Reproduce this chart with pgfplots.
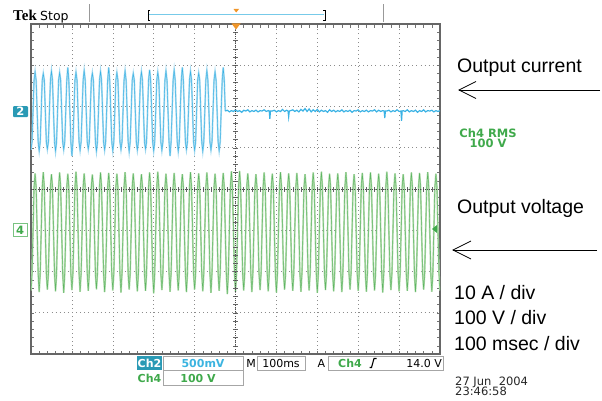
\documentclass[border=0pt]{standalone}
\usepackage{fontspec}
\setmainfont{Liberation Sans}
\newfontfamily\tekfont{DejaVu Sans}
\newfontfamily\logofont{Liberation Serif}
\usepackage{pgfplots}
\pgfplotsset{compat=1.18}

\definecolor{tekteal}{HTML}{2A9AB5}
\definecolor{teklblue}{HTML}{3CB4E0}
\definecolor{tekgreen}{HTML}{3FA94B}
\definecolor{tekorange}{HTML}{F0962A}
\definecolor{bluelt}{HTML}{A3D9F0}
\definecolor{bluedk}{HTML}{3AB2E4}
\definecolor{greenlt}{HTML}{B2DBAC}
\definecolor{greendk}{HTML}{5DB563}

\begin{document}
\begin{tikzpicture}[x=1pt,y=1pt]
\path[use as bounding box] (0,0) rectangle (602,400);

% graticule + traces (x in ms, y in divisions)
\begin{axis}[
  at={(31pt,46pt)}, anchor=south west, scale only axis,
  width=409pt, height=330pt,
  xmin=0, xmax=1000, ymin=-4, ymax=4,
  xtick={0,100,...,1000}, ytick={-4,-3,...,4},
  minor x tick num=4, minor y tick num=4,
  xticklabels={}, yticklabels={},
  tick align=inside, major tick length=3.5pt, minor tick length=3.5pt,
  tick style={black!55, line width=0.5pt},
  grid=major, major grid style={black!45, line width=0.6pt, dash pattern=on 0.8pt off 3.3pt},
  axis line style={black!60, line width=1.2pt},
]
% Ch4 output voltage
\addplot[greendk, line width=0.45pt, preaction={draw=greenlt, line width=1.7pt}] coordinates {
(0,-2.46)(2.5,-2.05)(5,-1)(7.5,0.05)(10,0.38)(12.5,0.05)(15,-1)(17.5,-2.05)
(20,-2.50)(22.5,-2.05)(25,-1)(27.5,0.05)(30,0.41)(32.5,0.05)(35,-1)(37.5,-2.05)
(40,-2.44)(42.5,-2.05)(45,-1)(47.5,0.05)(50,0.36)(52.5,0.05)(55,-1)(57.5,-2.05)
(60,-2.48)(62.5,-2.05)(65,-1)(67.5,0.05)(70,0.40)(72.5,0.05)(75,-1)(77.5,-2.05)
(80,-2.52)(82.5,-2.05)(85,-1)(87.5,0.05)(90,0.37)(92.5,0.05)(95,-1)(97.5,-2.05)
(100,-2.45)(102.5,-2.05)(105,-1)(107.5,0.05)(110,0.42)(112.5,0.05)(115,-1)(117.5,-2.05)
(120,-2.49)(122.5,-2.05)(125,-1)(127.5,0.05)(130,0.38)(132.5,0.05)(135,-1)(137.5,-2.05)
(140,-2.47)(142.5,-2.05)(145,-1)(147.5,0.05)(150,0.35)(152.5,0.05)(155,-1)(157.5,-2.05)
(160,-2.43)(162.5,-2.05)(165,-1)(167.5,0.05)(170,0.40)(172.5,0.05)(175,-1)(177.5,-2.05)
(180,-2.50)(182.5,-2.05)(185,-1)(187.5,0.05)(190,0.39)(192.5,0.05)(195,-1)(197.5,-2.05)
(200,-2.46)(202.5,-2.05)(205,-1)(207.5,0.05)(210,0.37)(212.5,0.05)(215,-1)(217.5,-2.05)
(220,-2.51)(222.5,-2.05)(225,-1)(227.5,0.05)(230,0.41)(232.5,0.05)(235,-1)(237.5,-2.05)
(240,-2.44)(242.5,-2.05)(245,-1)(247.5,0.05)(250,0.38)(252.5,0.05)(255,-1)(257.5,-2.05)
(260,-2.48)(262.5,-2.05)(265,-1)(267.5,0.05)(270,0.36)(272.5,0.05)(275,-1)(277.5,-2.05)
(280,-2.47)(282.5,-2.05)(285,-1)(287.5,0.05)(290,0.40)(292.5,0.05)(295,-1)(297.5,-2.05)
(300,-2.53)(302.5,-2.05)(305,-1)(307.5,0.05)(310,0.42)(312.5,0.05)(315,-1)(317.5,-2.05)
(320,-2.45)(322.5,-2.05)(325,-1)(327.5,0.05)(330,0.37)(332.5,0.05)(335,-1)(337.5,-2.05)
(340,-2.49)(342.5,-2.05)(345,-1)(347.5,0.05)(350,0.39)(352.5,0.05)(355,-1)(357.5,-2.05)
(360,-2.46)(362.5,-2.05)(365,-1)(367.5,0.05)(370,0.36)(372.5,0.05)(375,-1)(377.5,-2.05)
(380,-2.50)(382.5,-2.05)(385,-1)(387.5,0.05)(390,0.41)(392.5,0.05)(395,-1)(397.5,-2.05)
(400,-2.44)(402.5,-2.05)(405,-1)(407.5,0.05)(410,0.38)(412.5,0.05)(415,-1)(417.5,-2.05)
(420,-2.48)(422.5,-2.05)(425,-1)(427.5,0.05)(430,0.40)(432.5,0.05)(435,-1)(437.5,-2.05)
(440,-2.52)(442.5,-2.05)(445,-1)(447.5,0.05)(450,0.37)(452.5,0.05)(455,-1)(457.5,-2.05)
(460,-2.47)(462.5,-2.05)(465,-1)(467.5,0.05)(470,0.39)(472.5,0.05)(475,-1)(477.5,-2.05)
(480,-2.55)(482.5,-2.05)(485,-1)(487.5,0.05)(490,0.43)(492.5,0.05)(495,-1)(497.5,-2.05)
(500,-2.49)(502.5,-2.05)(505,-1)(507.5,0.05)(510,0.44)(512.5,0.05)(515,-1)(517.5,-2.05)
(520,-2.46)(522.5,-2.05)(525,-1)(527.5,0.05)(530,0.38)(532.5,0.05)(535,-1)(537.5,-2.05)
(540,-2.50)(542.5,-2.05)(545,-1)(547.5,0.05)(550,0.36)(552.5,0.05)(555,-1)(557.5,-2.05)
(560,-2.45)(562.5,-2.05)(565,-1)(567.5,0.05)(570,0.40)(572.5,0.05)(575,-1)(577.5,-2.05)
(580,-2.48)(582.5,-2.05)(585,-1)(587.5,0.05)(590,0.37)(592.5,0.05)(595,-1)(597.5,-2.05)
(600,-2.51)(602.5,-2.05)(605,-1)(607.5,0.05)(610,0.41)(612.5,0.05)(615,-1)(617.5,-2.05)
(620,-2.44)(622.5,-2.05)(625,-1)(627.5,0.05)(630,0.38)(632.5,0.05)(635,-1)(637.5,-2.05)
(640,-2.47)(642.5,-2.05)(645,-1)(647.5,0.05)(650,0.39)(652.5,0.05)(655,-1)(657.5,-2.05)
(660,-2.49)(662.5,-2.05)(665,-1)(667.5,0.05)(670,0.36)(672.5,0.05)(675,-1)(677.5,-2.05)
(680,-2.46)(682.5,-2.05)(685,-1)(687.5,0.05)(690,0.40)(692.5,0.05)(695,-1)(697.5,-2.05)
(700,-2.52)(702.5,-2.05)(705,-1)(707.5,0.05)(710,0.42)(712.5,0.05)(715,-1)(717.5,-2.05)
(720,-2.45)(722.5,-2.05)(725,-1)(727.5,0.05)(730,0.37)(732.5,0.05)(735,-1)(737.5,-2.05)
(740,-2.48)(742.5,-2.05)(745,-1)(747.5,0.05)(750,0.38)(752.5,0.05)(755,-1)(757.5,-2.05)
(760,-2.50)(762.5,-2.05)(765,-1)(767.5,0.05)(770,0.41)(772.5,0.05)(775,-1)(777.5,-2.05)
(780,-2.44)(782.5,-2.05)(785,-1)(787.5,0.05)(790,0.36)(792.5,0.05)(795,-1)(797.5,-2.05)
(800,-2.47)(802.5,-2.05)(805,-1)(807.5,0.05)(810,0.39)(812.5,0.05)(815,-1)(817.5,-2.05)
(820,-2.49)(822.5,-2.05)(825,-1)(827.5,0.05)(830,0.40)(832.5,0.05)(835,-1)(837.5,-2.05)
(840,-2.46)(842.5,-2.05)(845,-1)(847.5,0.05)(850,0.37)(852.5,0.05)(855,-1)(857.5,-2.05)
(860,-2.51)(862.5,-2.05)(865,-1)(867.5,0.05)(870,0.42)(872.5,0.05)(875,-1)(877.5,-2.05)
(880,-2.45)(882.5,-2.05)(885,-1)(887.5,0.05)(890,0.38)(892.5,0.05)(895,-1)(897.5,-2.05)
(900,-2.48)(902.5,-2.05)(905,-1)(907.5,0.05)(910,0.36)(912.5,0.05)(915,-1)(917.5,-2.05)
(920,-2.47)(922.5,-2.05)(925,-1)(927.5,0.05)(930,0.40)(932.5,0.05)(935,-1)(937.5,-2.05)
(940,-2.50)(942.5,-2.05)(945,-1)(947.5,0.05)(950,0.39)(952.5,0.05)(955,-1)(957.5,-2.05)
(960,-2.44)(962.5,-2.05)(965,-1)(967.5,0.05)(970,0.41)(972.5,0.05)(975,-1)(977.5,-2.05)
(980,-2.49)(982.5,-2.05)(985,-1)(987.5,0.05)(990,0.37)(992.5,0.05)(995,-1)(997.5,-2.05)
(1000,-2.46)
};
% Ch2 output current, before the break
\addplot[bluedk, line width=0.45pt, preaction={draw=bluelt, line width=1.7pt}] coordinates {
(0,0.95)(2.5,1.14)(5,1.89)(7.5,2.64)(10,2.84)(12.5,2.64)(15,1.89)(17.5,1.14)
(20,0.93)(22.5,1.14)(25,1.89)(27.5,2.64)(30,2.80)(32.5,2.64)(35,1.89)(37.5,1.14)
(40,0.97)(42.5,1.14)(45,1.89)(47.5,2.64)(50,2.86)(52.5,2.64)(55,1.89)(57.5,1.14)
(60,0.92)(62.5,1.14)(65,1.89)(67.5,2.64)(70,2.82)(72.5,2.64)(75,1.89)(77.5,1.14)
(80,0.96)(82.5,1.14)(85,1.89)(87.5,2.64)(90,2.95)(92.5,2.64)(95,1.89)(97.5,1.14)
(100,0.80)(102.5,1.14)(105,1.89)(107.5,2.64)(110,2.83)(112.5,2.64)(115,1.89)(117.5,1.14)
(120,0.94)(122.5,1.14)(125,1.89)(127.5,2.64)(130,2.87)(132.5,2.64)(135,1.89)(137.5,1.14)
(140,0.97)(142.5,1.14)(145,1.89)(147.5,2.64)(150,2.81)(152.5,2.64)(155,1.89)(157.5,1.14)
(160,0.92)(162.5,1.14)(165,1.89)(167.5,2.64)(170,2.85)(172.5,2.64)(175,1.89)(177.5,1.14)
(180,0.95)(182.5,1.14)(185,1.89)(187.5,2.64)(190,2.95)(192.5,2.64)(195,1.89)(197.5,1.14)
(200,0.93)(202.5,1.14)(205,1.89)(207.5,2.64)(210,2.82)(212.5,2.64)(215,1.89)(217.5,1.14)
(220,0.96)(222.5,1.14)(225,1.89)(227.5,2.64)(230,2.86)(232.5,2.64)(235,1.89)(237.5,1.14)
(240,0.91)(242.5,1.14)(245,1.89)(247.5,2.64)(250,2.80)(252.5,2.64)(255,1.89)(257.5,1.14)
(260,0.95)(262.5,1.14)(265,1.89)(267.5,2.64)(270,2.84)(272.5,2.64)(275,1.89)(277.5,1.14)
(280,0.97)(282.5,1.14)(285,1.89)(287.5,2.64)(290,2.89)(292.5,2.64)(295,1.89)(297.5,1.14)
(300,0.93)(302.5,1.14)(305,1.89)(307.5,2.64)(310,2.83)(312.5,2.64)(315,1.89)(317.5,1.14)
(320,0.94)(322.5,1.14)(325,1.89)(327.5,2.64)(330,2.86)(332.5,2.64)(335,1.89)(337.5,1.14)
(340,0.80)(342.5,1.14)(345,1.89)(347.5,2.64)(350,2.88)(352.5,2.64)(355,1.89)(357.5,1.14)
(360,0.92)(362.5,1.14)(365,1.89)(367.5,2.64)(370,2.95)(372.5,2.64)(375,1.89)(377.5,1.14)
(380,0.96)(382.5,1.14)(385,1.89)(387.5,2.64)(390,2.85)(392.5,2.64)(395,1.89)(397.5,1.14)
(400,0.94)(402.5,1.14)(405,1.89)(407.5,2.64)(410,2.81)(412.5,2.64)(415,1.89)(417.5,1.14)
(420,0.92)(422.5,1.14)(425,1.89)(427.5,2.64)(430,2.87)(432.5,2.64)(435,1.89)(437.5,1.14)
(440,0.95)(442.5,1.14)(445,1.89)(447.5,2.64)(450,2.84)(452.5,2.64)(455,1.89)(457.5,1.14)
(460,0.93)(462.5,1.14)(465,1.89)(467.5,2.64)(470,2.95)(472.5,2.64)(475,1.89)
};
% Ch2 after the break: flat with noise and a few thin dips
\addplot[bluedk, line width=1.2pt] coordinates {
(475,1.89)(480,1.91)(485,1.87)(490,1.90)(495,1.88)(500,1.92)(505,1.88)(510,1.90)
(515,1.86)(520,1.91)(525,1.89)(530,1.92)(535,1.87)(540,1.90)(545,1.88)(550,1.91)
(555,1.87)(560,1.90)(565,1.89)(570,1.92)(575,1.88)(580,1.90)(582.5,1.89)(584,1.70)(585.5,1.89)(590,1.89)
(595,1.91)(600,1.87)(605,1.90)(610,1.88)(615,1.93)(620,1.88)(625,1.91)(628.5,1.89)(630,1.75)(631.5,1.89)
(635,1.90)(640,1.92)(645,1.88)(650,1.91)(655,1.87)(660,1.93)(665,1.89)(670,1.95)
(675,1.88)(680,1.94)(685,1.87)(690,1.92)(695,1.88)(700,1.93)(705,1.87)(710,1.91)
(715,1.88)(720,1.90)(725,1.86)(730,1.92)(735,1.88)(740,1.91)(745,1.87)(750,1.90)
(755,1.88)(760,1.92)(765,1.87)(770,1.90)(775,1.88)(780,1.91)(785,1.86)(790,1.90)
(795,1.89)(800,1.92)(805,1.87)(810,1.90)(815,1.88)(820,1.91)(825,1.87)(830,1.90)
(835,1.89)(840,1.92)(845,1.87)(850,1.91)(855,1.88)(860,1.90)(863.5,1.89)(865,1.72)(866.5,1.89)(870,1.89)
(875,1.91)(880,1.87)(885,1.90)(890,1.88)(895,1.92)(900,1.88)(904.5,1.89)(906,1.65)(907.5,1.89)(910,1.90)
(915,1.88)(920,1.92)(925,1.87)(930,1.90)(935,1.88)(940,1.91)(945,1.86)(950,1.90)
(955,1.88)(960,1.92)(965,1.87)(970,1.90)(975,1.89)(980,1.91)(985,1.87)(990,1.90)
(995,1.88)(1000,1.90)
};
\end{axis}

% centre crosshair with its fine ticks
\begin{axis}[
  at={(31pt,46pt)}, anchor=south west, scale only axis,
  width=409pt, height=330pt,
  xmin=-500, xmax=500, ymin=-4, ymax=4,
  axis lines=middle,
  axis line style={-, black!70, line width=0.6pt, dash pattern=on 1pt off 1.2pt},
  xtick={-500,-480,...,500}, ytick={-4,-3.8,...,4},
  xticklabels={}, yticklabels={},
  tick align=center, major tick length=5pt,
  tick style={black!60, line width=0.5pt, solid},
]
\end{axis}

% header
\node[anchor=base west, inner sep=0, font={\logofont\bfseries\fontsize{15}{15}\selectfont}] at (13,379) {Tek};
\node[anchor=base west, inner sep=0, font={\tekfont\fontsize{12.5}{13}\selectfont}] at (40,379) {Stop};
\draw[black!40, line width=0.8pt] (89,378)--(89,396);
\draw[black!40, line width=0.8pt] (383,378)--(383,396);
\draw[teklblue!70, line width=1pt] (149,385)--(324,385);
\draw[black, line width=0.7pt] (150,390)--(148,390)--(148,380)--(150,380);
\draw[black, line width=0.7pt] (323,390)--(325,390)--(325,380)--(323,380);
\fill[tekorange] (233.5,391)--(239,391)--(236.2,387.5)--cycle;
\fill[tekorange] (231.5,376.5)--(240.5,376.5)--(236,370.5)--cycle;

% channel markers
\fill[tekteal, rounded corners=1pt] (13,283) rectangle (28,294);
\node[white, inner sep=0, font={\tekfont\bfseries\fontsize{11.5}{12}\selectfont}] at (20.5,288.5) {2};
\draw[tekgreen!70, fill=white, line width=0.8pt] (13.5,163.5) rectangle (27,176.5);
\node[tekgreen, inner sep=0, font={\tekfont\bfseries\fontsize{11.5}{12}\selectfont}] at (20.2,170) {4};
\fill[tekgreen] (432,171)--(437,175)--(437,167)--cycle;

% measurement readout
\node[anchor=base, tekgreen, inner sep=0, font={\tekfont\bfseries\fontsize{11.5}{12}\selectfont}] at (488,263) {Ch4 RMS};
\node[anchor=base, tekgreen, inner sep=0, font={\tekfont\bfseries\fontsize{11.5}{12}\selectfont}] at (488,253) {100 V};

% status line
\begin{scope}[every node/.style={inner sep=0, font={\tekfont\fontsize{11}{11}\selectfont}}]
\fill[tekteal] (137,30) rectangle (162,44);
\node[white, font={\tekfont\bfseries\fontsize{11}{11}\selectfont}] at (149.5,37) {Ch2};
\draw[black!35, line width=0.6pt] (163,29.5) rectangle (243,44);
\node[teklblue, font={\tekfont\bfseries\fontsize{11}{11}\selectfont}] at (203,37) {500mV};
\node at (251,37) {M};
\draw[black!35, line width=0.6pt] (257,29.5) rectangle (305,44);
\node at (281,37) {100ms};
\node at (321.5,37) {A};
\draw[black!35, line width=0.6pt] (328,29.5) rectangle (443,44);
\node[tekgreen, font={\tekfont\bfseries\fontsize{11}{11}\selectfont}] at (350,37) {Ch4};
\draw[black, line width=1.1pt] (369.5,32.5)--(371.5,32.5)--(374,41.5)--(376.5,41.5);
\node[anchor=east] at (442,37) {14.0 V};
\node[tekgreen, font={\tekfont\bfseries\fontsize{11}{11}\selectfont}] at (149.5,22) {Ch4};
\draw[black!35, line width=0.6pt] (163,15) rectangle (243,29.5);
\node[tekgreen, font={\tekfont\bfseries\fontsize{11}{11}\selectfont}] at (198,22) {100 V};
\node[anchor=base west, black!85, font={\tekfont\fontsize{11.5}{12}\selectfont}] at (455,15) {27 Jun\ \ 2004};
\node[anchor=base west, black!85, font={\tekfont\fontsize{11.5}{12}\selectfont}] at (455,5) {23:46:58};
\end{scope}

% annotations
\begin{scope}[every node/.style={anchor=base west, inner sep=0, font={\fontsize{19.5}{22}\selectfont}}]
\node at (457,327) {Output current};
\node at (457,187) {Output voltage};
\node at (454,101) {10 A / div};
\node at (454,76) {100 V / div};
\node at (454,50) {100 msec / div};
\end{scope}
\draw[line width=0.8pt] (600,310)--(459,310);
\draw[line width=0.8pt] (476,318.5)--(459,310)--(476,301.5);
\draw[line width=0.8pt] (597,150)--(453,150);
\draw[line width=0.8pt] (471,159)--(453,150)--(471,141);
\end{tikzpicture}
\end{document}
